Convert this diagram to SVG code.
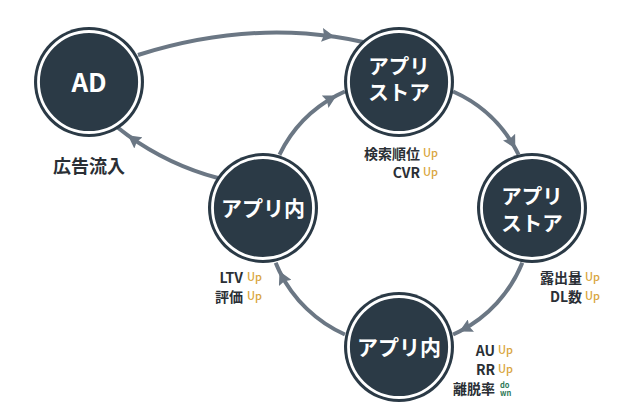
<svg xmlns="http://www.w3.org/2000/svg" width="630" height="420" viewBox="0 0 630 420">
  <style>
    .conn { fill: none; stroke: #6b7784; stroke-width: 4; marker-mid: url(#arrow); }
    .outer { fill: #2b3a46; }
    .ring { fill: none; stroke: #ffffff; stroke-width: 2.8; }
    .nt { font-family: "Noto Sans CJK JP", "Noto Sans", sans-serif; font-weight: 700; fill: #ffffff; text-anchor: middle; }
    .lbl { font-family: "Noto Sans CJK JP", "Noto Sans", sans-serif; font-weight: 700; font-size: 14px; fill: #2a2f35; text-anchor: end; }
    .up { font-family: "Noto Sans CJK JP", "Noto Sans", sans-serif; font-weight: 500; font-size: 11px; fill: #d9a53c; }
    .down { font-family: "Noto Sans CJK JP", "Noto Sans", sans-serif; font-weight: 700; font-size: 7.5px; fill: #2f7a58; }
  </style>
  <defs>
    <marker id="arrow" markerUnits="userSpaceOnUse" markerWidth="14" markerHeight="14" refX="13" refY="7" orient="auto" viewBox="0 0 14 14">
      <path d="M0,0 L13,7 L0,14 L2,7 z" fill="#6b7784"/>
    </marker>
  </defs>
  <rect width="630" height="420" fill="#ffffff"/>

  <g id="connectors">
    <path class="conn" d="M138,55 Q239.8,22.8 334.8,36.8 Q349,38.9 363,42"/>
    <path class="conn" d="M453.1,91.5 A133,133 0 0 1 515.3,148.5 A133,133 0 0 1 518.5,154.7"/>
    <path class="conn" d="M522.3,262.8 A133,133 0 0 1 459.4,331.5 A133,133 0 0 1 453.1,334.5"/>
    <path class="conn" d="M344.9,334.5 A133,133 0 0 1 279.5,271.3 A133,133 0 0 1 275.7,262.8"/>
    <path class="conn" d="M279.5,154.7 A133,133 0 0 1 336.6,95.6 A133,133 0 0 1 344.9,91.5"/>
    <path class="conn" d="M218,178 Q168.7,164.8 127.9,135.3 Q122.4,131.3 117,127"/>
  </g>

  <g id="node-ad">
    <circle class="outer" cx="89" cy="82" r="55"/>
    <circle class="ring" cx="89" cy="82" r="50.5"/>
    <text class="nt" x="89" y="92" font-size="26">AD</text>
  </g>

  <g id="node-store1">
    <circle class="outer" cx="399" cy="82" r="55"/>
    <circle class="ring" cx="399" cy="82" r="50.5"/>
    <text class="nt" font-size="20.5"><tspan x="399" y="74">アプリ</tspan><tspan x="399" y="100">ストア</tspan></text>
  </g>

  <g id="node-store2">
    <circle class="outer" cx="532" cy="208" r="55"/>
    <circle class="ring" cx="532" cy="208" r="50.5"/>
    <text class="nt" font-size="20.5"><tspan x="532" y="204">アプリ</tspan><tspan x="532" y="231">ストア</tspan></text>
  </g>

  <g id="node-app1">
    <circle class="outer" cx="263" cy="208" r="55"/>
    <circle class="ring" cx="263" cy="208" r="50.5"/>
    <text class="nt" x="263" y="216" font-size="21">アプリ内</text>
  </g>

  <g id="node-app2">
    <circle class="outer" cx="399" cy="347" r="55"/>
    <circle class="ring" cx="399" cy="347" r="50.5"/>
    <text class="nt" x="399" y="355" font-size="21">アプリ内</text>
  </g>

  <g id="labels">
    <text x="89" y="173" font-family="Noto Sans CJK JP, Noto Sans, sans-serif" font-weight="700" font-size="18" fill="#2a2f35" text-anchor="middle">広告流入</text>

    <text class="lbl" x="420" y="159">検索順位</text>
    <text class="up" x="423" y="157">Up</text>
    <text class="lbl" x="420" y="178">CVR</text>
    <text class="up" x="423" y="176">Up</text>

    <text class="lbl" x="243" y="283">LTV</text>
    <text class="up" x="247" y="281">Up</text>
    <text class="lbl" x="243" y="302">評価</text>
    <text class="up" x="247" y="300">Up</text>

    <text class="lbl" x="582" y="283">露出量</text>
    <text class="up" x="585" y="281">Up</text>
    <text class="lbl" x="582" y="302">DL数</text>
    <text class="up" x="585" y="300">Up</text>

    <text class="lbl" x="495" y="356">AU</text>
    <text class="up" x="498" y="354">Up</text>
    <text class="lbl" x="495" y="375">RR</text>
    <text class="up" x="498" y="373">Up</text>
    <text class="lbl" x="495" y="394">離脱率</text>
    <text class="down"><tspan x="500" y="387.5">do</tspan><tspan x="500" y="395.5">wn</tspan></text>
  </g>
</svg>
